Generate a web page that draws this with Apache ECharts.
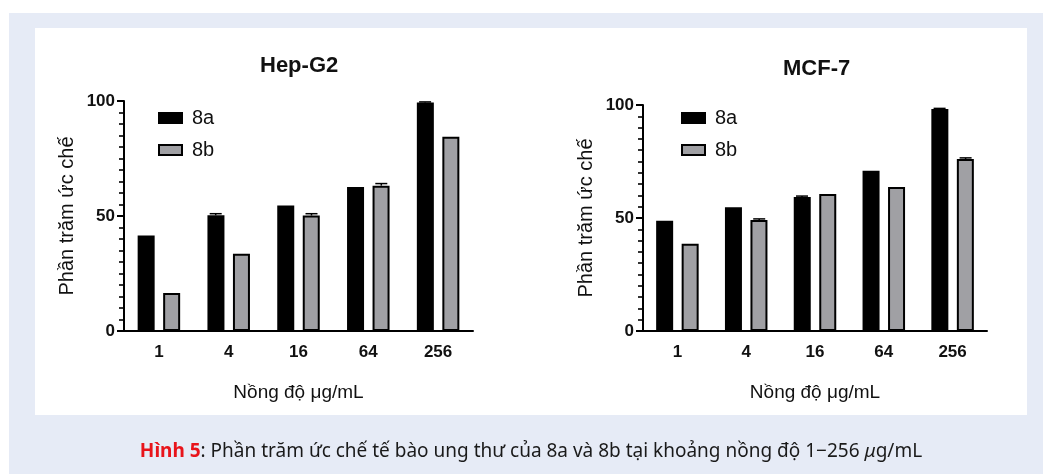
<!DOCTYPE html>
<html>
<head>
<meta charset="utf-8">
<script src="https://cdn.jsdelivr.net/npm/echarts@6/dist/echarts.min.js"></script>
<style>
html,body{margin:0;padding:0;background:#fff;}
#chart{width:1043px;height:474px;}
</style>
</head>
<body>
<div id="chart"></div>
<script>
// ---- data ----
var categories = ['1', '4', '16', '64', '256'];
var seriesNames = ['8a', '8b'];
var hepTitle = 'Hep-G2';
var mcfTitle = 'MCF-7';
var hep8a = [41.5, 50.3, 54.6, 62.6, 99.3];
var hep8b = [16.5, 33.6, 50.2, 63.2, 84.5];
var hep8aErr = [0, 0.7, 0, 0, 0.3];
var hep8bErr = [0, 0, 0.8, 0.9, 0];
var mcf8a = [48.8, 54.8, 59.3, 70.9, 98.2];
var mcf8b = [38.6, 49.1, 60.6, 63.7, 76.1];
var mcf8aErr = [0, 0, 0.4, 0, 0.3];
var mcf8bErr = [0, 0.5, 0, 0, 0.5];
var yTicks = [0, 50, 100];
var yMinorPerMajor = 10;
var yAxisName = 'Phần trăm ức chế';
var xAxisName = 'Nồng độ μg/mL';
var captionLabel = 'Hình 5';
var captionText = ': Phần trăm ức chế tế bào ung thư của 8a và 8b tại khoảng nồng độ 1−256 ';
var captionUnitMu = 'μ';
var captionUnitRest = 'g/mL';

var chart = echarts.init(document.getElementById('chart'), null, {renderer: 'canvas'});
var FONT = 'Liberation Sans';
var CAP_FONT = 'Noto Sans';
var BAR_W = 17, BAR_GAP = '50%', HALF_OFF = 13;
var gridsPos = [
  {left: 124, top: 101, width: 349, height: 230},
  {left: 643, top: 105, width: 344, height: 226}
];

function xAxisCfg(gi) {
  return {
    type: 'category', gridIndex: gi, data: categories,
    name: xAxisName, nameLocation: 'middle', nameGap: 52,
    nameTextStyle: {fontFamily: FONT, fontSize: 19, color: '#111'},
    axisLine: {lineStyle: {color: '#000', width: 2}},
    axisTick: {alignWithLabel: true, length: 7, lineStyle: {color: '#000', width: 2}},
    axisLabel: {margin: 13, fontFamily: FONT, fontSize: 17, fontWeight: 'bold', color: '#111'},
    splitLine: {show: false}
  };
}
function yAxisCfg(gi) {
  return {
    type: 'value', gridIndex: gi, position: 'left',
    min: yTicks[0], max: yTicks[yTicks.length - 1], interval: yTicks[1] - yTicks[0],
    name: yAxisName, nameLocation: 'middle', nameGap: 47, nameRotate: 90,
    nameTextStyle: {fontFamily: FONT, fontSize: 20, color: '#111'},
    axisLine: {show: true, lineStyle: {color: '#000', width: 2}},
    axisTick: {show: true, length: 7, lineStyle: {color: '#000', width: 2}},
    minorTick: {show: true, splitNumber: yMinorPerMajor, length: 5, lineStyle: {color: '#000', width: 1.6}},
    axisLabel: {margin: 9, fontFamily: FONT, fontSize: 17, fontWeight: 'bold', color: '#111'},
    splitLine: {show: false}
  };
}
function barSeries(name, data, gi, fill) {
  return {
    type: 'bar', name: name, data: data, xAxisIndex: gi, yAxisIndex: gi,
    barWidth: BAR_W, barGap: BAR_GAP,
    itemStyle: {color: fill, borderColor: '#000', borderWidth: 2},
    emphasis: {disabled: true}
  };
}
function errSeries(vals, errs, gi, side) {
  var d = vals.map(function (v, i) { return [i, v, errs[i]]; }).filter(function (r) { return r[2] > 0; });
  return {
    type: 'custom', xAxisIndex: gi, yAxisIndex: gi, data: d, z: 5, silent: true,
    renderItem: function (params, api) {
      var i = api.value(0), v = api.value(1), e = api.value(2);
      var top = api.coord([i, v + e]);
      var base = api.coord([i, v]);
      var x = top[0] + side * HALF_OFF;
      return {
        type: 'group', children: [
          {type: 'line', shape: {x1: x, y1: base[1], x2: x, y2: top[1]}, style: {stroke: '#000', lineWidth: 1.5}},
          {type: 'line', shape: {x1: x - 6, y1: top[1], x2: x + 6, y2: top[1]}, style: {stroke: '#000', lineWidth: 1.5}}
        ]
      };
    }
  };
}
function legendCfg(left) {
  return {
    orient: 'vertical', left: left, top: 108, padding: 0,
    itemWidth: 23, itemHeight: 10, itemGap: 12, icon: 'rect',
    data: seriesNames, selectedMode: false,
    textStyle: {fontFamily: FONT, fontSize: 20, color: '#111', padding: [0, 0, 0, 5]}
  };
}

var GRAY = '#a0a0a4';
var option = {
  animation: false,
  textStyle: {fontFamily: FONT},
  graphic: [
    {type: 'rect', z: -10, shape: {x: 9, y: 13, width: 1034, height: 461}, style: {fill: '#e6ebf6'}},
    {type: 'rect', z: -9, shape: {x: 35, y: 28, width: 992, height: 387}, style: {fill: '#ffffff'}},
    {type: 'text', z: 10, x: 531, y: 452,
      style: {
        text: '{r|' + captionLabel + '}{n|' + captionText + '}{m|' + captionUnitMu + '}{n|' + captionUnitRest + '}',
        align: 'center', verticalAlign: 'middle',
        rich: {
          r: {fontFamily: CAP_FONT, fontSize: 19, fontWeight: 'bold', fill: '#e8141b'},
          n: {fontFamily: CAP_FONT, fontSize: 19, fill: '#1a1a1a'},
          m: {fontFamily: CAP_FONT, fontSize: 19, fontStyle: 'italic', fill: '#1a1a1a'}
        }
      }}
  ],
  title: [
    {text: hepTitle, left: 260, top: 55, padding: 0,
      textStyle: {fontFamily: FONT, fontSize: 22, fontWeight: 'bold', color: '#111'}},
    {text: mcfTitle, left: 783, top: 58, padding: 0,
      textStyle: {fontFamily: FONT, fontSize: 22, fontWeight: 'bold', color: '#111'}}
  ],
  legend: [legendCfg(158), legendCfg(681)],
  grid: gridsPos.map(function (g) { return Object.assign({containLabel: false}, g); }),
  xAxis: [xAxisCfg(0), xAxisCfg(1)],
  yAxis: [yAxisCfg(0), yAxisCfg(1)],
  series: [
    barSeries(seriesNames[0], hep8a, 0, '#000'),
    barSeries(seriesNames[1], hep8b, 0, GRAY),
    barSeries(seriesNames[0], mcf8a, 1, '#000'),
    barSeries(seriesNames[1], mcf8b, 1, GRAY),
    errSeries(hep8a, hep8aErr, 0, -1),
    errSeries(hep8b, hep8bErr, 0, 1),
    errSeries(mcf8a, mcf8aErr, 1, -1),
    errSeries(mcf8b, mcf8bErr, 1, 1)
  ]
};
chart.setOption(option);
</script>
</body>
</html>
